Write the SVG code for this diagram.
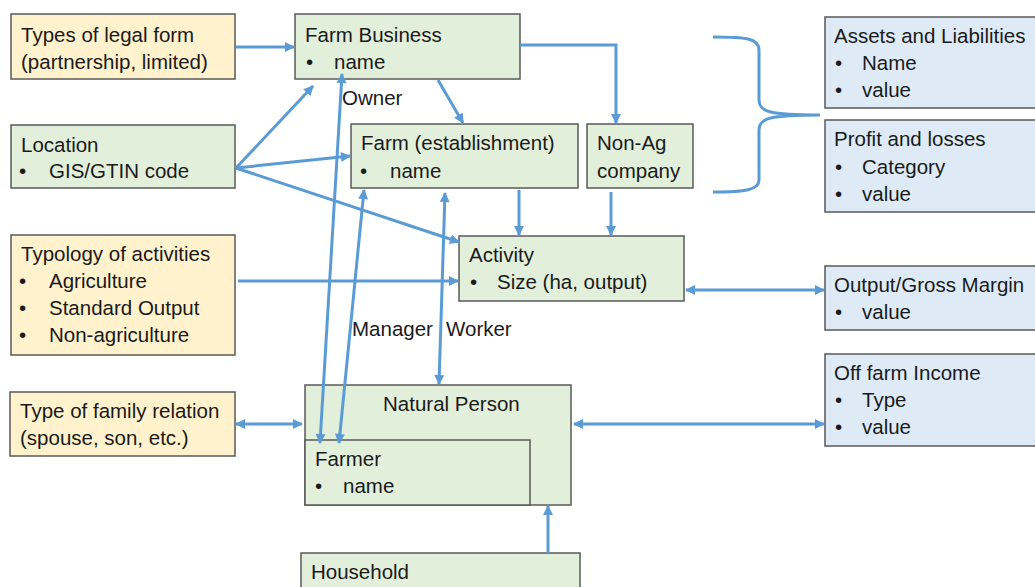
<svg xmlns="http://www.w3.org/2000/svg" width="1035" height="587" viewBox="0 0 1035 587">
<defs>
<style>
text{font-family:"Liberation Sans",Arial,sans-serif;font-size:20.5px;fill:#1a1a1a}
.box{stroke:#5a5a5a;stroke-width:1.5}
.y{fill:#fff2cc}
.g{fill:#e2efda}
.b{fill:#deebf7}
.c{stroke:#5b9bd5;stroke-width:3;fill:none}
</style>
<marker id="ah" viewBox="0 0 10 10" refX="9" refY="5" markerWidth="11" markerHeight="10" markerUnits="userSpaceOnUse" orient="auto-start-reverse">
<path d="M0,0 L10,5 L0,10 z" fill="#5b9bd5"/>
</marker>
</defs>
<rect width="1035" height="587" fill="#ffffff"/>

<g id="legal-form">
<rect class="box y" x="11" y="14" width="224" height="65"/>
<text x="21" y="42">Types of legal form</text>
<text x="21" y="69">(partnership, limited)</text>
</g>
<g id="farm-business">
<rect class="box g" x="295" y="14" width="225" height="65"/>
<text x="305" y="42">Farm Business</text>
<text x="306" y="69">•</text><text x="334" y="69">name</text>
</g>
<g id="location">
<rect class="box g" x="11" y="125" width="224" height="63"/>
<text x="21" y="152">Location</text>
<text x="19" y="178">•</text><text x="49" y="178">GIS/GTIN code</text>
</g>
<g id="farm-establishment">
<rect class="box g" x="351" y="124" width="227" height="64"/>
<text x="361" y="150">Farm (establishment)</text>
<text x="360" y="178">•</text><text x="390" y="178">name</text>
</g>
<g id="non-ag">
<rect class="box g" x="587" y="124" width="106" height="64"/>
<text x="597" y="150">Non-Ag</text>
<text x="597" y="178">company</text>
</g>
<g id="assets">
<rect class="box b" x="825" y="17" width="215" height="91"/>
<text x="834" y="43">Assets and Liabilities</text>
<text x="835" y="70">•</text><text x="862" y="70">Name</text>
<text x="835" y="97">•</text><text x="862" y="97">value</text>
</g>
<g id="profit">
<rect class="box b" x="825" y="120" width="215" height="92"/>
<text x="834" y="146">Profit and losses</text>
<text x="835" y="174">•</text><text x="862" y="174">Category</text>
<text x="835" y="201">•</text><text x="862" y="201">value</text>
</g>
<g id="typology">
<rect class="box y" x="11" y="235" width="224" height="120"/>
<text x="21" y="261">Typology of activities</text>
<text x="19" y="288">•</text><text x="49" y="288">Agriculture</text>
<text x="19" y="315">•</text><text x="49" y="315">Standard Output</text>
<text x="19" y="342">•</text><text x="49" y="342">Non-agriculture</text>
</g>
<g id="activity">
<rect class="box g" x="459" y="236" width="225" height="65"/>
<text x="469" y="262">Activity</text>
<text x="470" y="289">•</text><text x="497" y="289">Size (ha, output)</text>
</g>
<g id="output-margin">
<rect class="box b" x="825" y="266" width="215" height="64"/>
<text x="834" y="292">Output/Gross Margin</text>
<text x="835" y="319">•</text><text x="862" y="319">value</text>
</g>
<g id="family-relation">
<rect class="box y" x="10" y="392" width="225" height="64"/>
<text x="20" y="418">Type of family relation</text>
<text x="20" y="445">(spouse, son, etc.)</text>
</g>
<g id="natural-person">
<rect class="box g" x="305" y="385" width="266" height="120"/>
<text x="383" y="411">Natural Person</text>
</g>
<g id="farmer">
<rect class="box g" x="305" y="440" width="225" height="65"/>
<text x="315" y="466">Farmer</text>
<text x="315" y="493">•</text><text x="343" y="493">name</text>
</g>
<g id="off-farm-income">
<rect class="box b" x="825" y="354" width="215" height="92"/>
<text x="834" y="380">Off farm Income</text>
<text x="835" y="407">•</text><text x="862" y="407">Type</text>
<text x="835" y="434">•</text><text x="862" y="434">value</text>
</g>
<g id="household">
<rect class="box g" x="301" y="553" width="279" height="40"/>
<text x="311" y="579">Household</text>
</g>

<g id="connectors">
<line class="c" x1="236" y1="47" x2="294" y2="47" marker-end="url(#ah)"/>
<line class="c" x1="236" y1="168" x2="313" y2="86" marker-end="url(#ah)"/>
<line class="c" x1="236" y1="168" x2="350" y2="156" marker-end="url(#ah)"/>
<line class="c" x1="236" y1="168" x2="459" y2="242" marker-end="url(#ah)"/>
<line class="c" x1="438" y1="80" x2="463" y2="123" marker-end="url(#ah)"/>
<polyline class="c" points="520,45 616,45 616,123" marker-end="url(#ah)"/>
<line class="c" x1="519" y1="190" x2="519" y2="235" marker-end="url(#ah)"/>
<line class="c" x1="611" y1="192" x2="611" y2="235" marker-end="url(#ah)"/>
<line class="c" x1="238" y1="281" x2="458" y2="281" marker-end="url(#ah)"/>
<line class="c" x1="686" y1="290" x2="824" y2="290" marker-start="url(#ah)" marker-end="url(#ah)"/>
<line class="c" x1="320" y1="443" x2="342" y2="74" marker-start="url(#ah)" marker-end="url(#ah)"/>
<line class="c" x1="339" y1="443" x2="364" y2="190" marker-start="url(#ah)" marker-end="url(#ah)"/>
<line class="c" x1="439" y1="384" x2="445" y2="193" marker-start="url(#ah)" marker-end="url(#ah)"/>
<line class="c" x1="236" y1="424" x2="302" y2="424" marker-start="url(#ah)" marker-end="url(#ah)"/>
<line class="c" x1="574" y1="424" x2="824" y2="424" marker-start="url(#ah)" marker-end="url(#ah)"/>
<line class="c" x1="548" y1="553" x2="548" y2="506" marker-end="url(#ah)"/>
<path class="c" d="M713,37 C745,37 759,38 759,50 L759,100 C759,112 770,115 820,115 C770,115 759,118 759,130 L759,180 C759,190 745,192 713,192"/>
<text x="342" y="105">Owner</text>
<text x="352" y="336">Manager</text>
<text x="446" y="336">Worker</text>
</g>
</svg>
